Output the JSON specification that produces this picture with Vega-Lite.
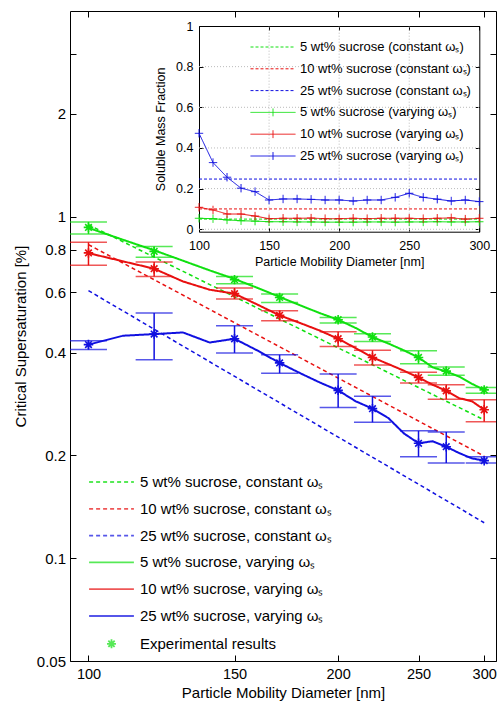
{
"$schema":"https://vega.github.io/schema/vega-lite/v6.json",
"width":426,"height":650,
"autosize":{"type":"none"},
"padding":{"left":70,"top":11,"right":1,"bottom":41},
"background":"white",
"config":{
 "font":"Liberation Sans",
 "view":{"stroke":"#000","strokeWidth":1},
 "axis":{"grid":false,"labelColor":"#000","titleColor":"#000","tickColor":"#000","domainColor":"#000","titleFontWeight":"normal","labelFlush":false,"labelOverlap":false,"labelFont":"Liberation Sans","titleFont":"Liberation Sans"},
 "legend":{"labelFont":"Liberation Sans","labelColor":"#000","labelLimit":0,"padding":0}
},
"datasets":{
 "mconst":[
  {"d":100,"S":0.947,"series":"5 wt% sucrose, constant ωₛ"},{"d":300,"S":0.254,"series":"5 wt% sucrose, constant ωₛ"},
  {"d":100,"S":0.828,"series":"10 wt% sucrose, constant ωₛ"},{"d":300,"S":0.199,"series":"10 wt% sucrose, constant ωₛ"},
  {"d":100,"S":0.607,"series":"25 wt% sucrose, constant ωₛ"},{"d":300,"S":0.127,"series":"25 wt% sucrose, constant ωₛ"}
 ],
 "mvary":[
  {"d":100,"S":0.927,"series":"5 wt% sucrose, varying ωₛ"},{"d":110,"S":0.856,"series":"5 wt% sucrose, varying ωₛ"},{"d":120,"S":0.797,"series":"5 wt% sucrose, varying ωₛ"},{"d":130,"S":0.743,"series":"5 wt% sucrose, varying ωₛ"},{"d":140,"S":0.696,"series":"5 wt% sucrose, varying ωₛ"},{"d":150,"S":0.657,"series":"5 wt% sucrose, varying ωₛ"},{"d":160,"S":0.618,"series":"5 wt% sucrose, varying ωₛ"},{"d":170,"S":0.582,"series":"5 wt% sucrose, varying ωₛ"},{"d":180,"S":0.55,"series":"5 wt% sucrose, varying ωₛ"},{"d":190,"S":0.522,"series":"5 wt% sucrose, varying ωₛ"},{"d":200,"S":0.499,"series":"5 wt% sucrose, varying ωₛ"},{"d":210,"S":0.472,"series":"5 wt% sucrose, varying ωₛ"},{"d":220,"S":0.444,"series":"5 wt% sucrose, varying ωₛ"},{"d":230,"S":0.425,"series":"5 wt% sucrose, varying ωₛ"},{"d":240,"S":0.406,"series":"5 wt% sucrose, varying ωₛ"},{"d":250,"S":0.387,"series":"5 wt% sucrose, varying ωₛ"},{"d":260,"S":0.362,"series":"5 wt% sucrose, varying ωₛ"},{"d":270,"S":0.352,"series":"5 wt% sucrose, varying ωₛ"},{"d":280,"S":0.34,"series":"5 wt% sucrose, varying ωₛ"},{"d":290,"S":0.324,"series":"5 wt% sucrose, varying ωₛ"},{"d":300,"S":0.311,"series":"5 wt% sucrose, varying ωₛ"},
  {"d":100,"S":0.782,"series":"10 wt% sucrose, varying ωₛ"},{"d":110,"S":0.74,"series":"10 wt% sucrose, varying ωₛ"},{"d":120,"S":0.704,"series":"10 wt% sucrose, varying ωₛ"},{"d":130,"S":0.646,"series":"10 wt% sucrose, varying ωₛ"},{"d":140,"S":0.611,"series":"10 wt% sucrose, varying ωₛ"},{"d":150,"S":0.595,"series":"10 wt% sucrose, varying ωₛ"},{"d":160,"S":0.552,"series":"10 wt% sucrose, varying ωₛ"},{"d":170,"S":0.514,"series":"10 wt% sucrose, varying ωₛ"},{"d":180,"S":0.488,"series":"10 wt% sucrose, varying ωₛ"},{"d":190,"S":0.464,"series":"10 wt% sucrose, varying ωₛ"},{"d":200,"S":0.439,"series":"10 wt% sucrose, varying ωₛ"},{"d":210,"S":0.412,"series":"10 wt% sucrose, varying ωₛ"},{"d":220,"S":0.387,"series":"10 wt% sucrose, varying ωₛ"},{"d":230,"S":0.37,"series":"10 wt% sucrose, varying ωₛ"},{"d":240,"S":0.354,"series":"10 wt% sucrose, varying ωₛ"},{"d":250,"S":0.338,"series":"10 wt% sucrose, varying ωₛ"},{"d":260,"S":0.322,"series":"10 wt% sucrose, varying ωₛ"},{"d":270,"S":0.309,"series":"10 wt% sucrose, varying ωₛ"},{"d":280,"S":0.294,"series":"10 wt% sucrose, varying ωₛ"},{"d":290,"S":0.288,"series":"10 wt% sucrose, varying ωₛ"},{"d":300,"S":0.272,"series":"10 wt% sucrose, varying ωₛ"},
  {"d":100,"S":0.422,"series":"25 wt% sucrose, varying ωₛ"},{"d":110,"S":0.448,"series":"25 wt% sucrose, varying ωₛ"},{"d":120,"S":0.453,"series":"25 wt% sucrose, varying ωₛ"},{"d":130,"S":0.458,"series":"25 wt% sucrose, varying ωₛ"},{"d":140,"S":0.428,"series":"25 wt% sucrose, varying ωₛ"},{"d":150,"S":0.439,"series":"25 wt% sucrose, varying ωₛ"},{"d":160,"S":0.405,"series":"25 wt% sucrose, varying ωₛ"},{"d":170,"S":0.373,"series":"25 wt% sucrose, varying ωₛ"},{"d":180,"S":0.348,"series":"25 wt% sucrose, varying ωₛ"},{"d":190,"S":0.327,"series":"25 wt% sucrose, varying ωₛ"},{"d":200,"S":0.31,"series":"25 wt% sucrose, varying ωₛ"},{"d":210,"S":0.288,"series":"25 wt% sucrose, varying ωₛ"},{"d":220,"S":0.274,"series":"25 wt% sucrose, varying ωₛ"},{"d":230,"S":0.257,"series":"25 wt% sucrose, varying ωₛ"},{"d":240,"S":0.232,"series":"25 wt% sucrose, varying ωₛ"},{"d":250,"S":0.217,"series":"25 wt% sucrose, varying ωₛ"},{"d":260,"S":0.22,"series":"25 wt% sucrose, varying ωₛ"},{"d":270,"S":0.212,"series":"25 wt% sucrose, varying ωₛ"},{"d":280,"S":0.203,"series":"25 wt% sucrose, varying ωₛ"},{"d":290,"S":0.196,"series":"25 wt% sucrose, varying ωₛ"},{"d":300,"S":0.193,"series":"25 wt% sucrose, varying ωₛ"}
 ],
 "exp":[
  {"d":100,"S":0.93,"lo":0.89,"hi":0.965,"series":"5 wt% sucrose, varying ωₛ"},
  {"d":120,"S":0.791,"lo":0.76,"hi":0.818,"series":"5 wt% sucrose, varying ωₛ"},
  {"d":150,"S":0.654,"lo":0.636,"hi":0.668,"series":"5 wt% sucrose, varying ωₛ"},
  {"d":170,"S":0.58,"lo":0.561,"hi":0.594,"series":"5 wt% sucrose, varying ωₛ"},
  {"d":200,"S":0.499,"lo":0.488,"hi":0.507,"series":"5 wt% sucrose, varying ωₛ"},
  {"d":220,"S":0.444,"lo":0.431,"hi":0.454,"series":"5 wt% sucrose, varying ωₛ"},
  {"d":250,"S":0.387,"lo":0.371,"hi":0.405,"series":"5 wt% sucrose, varying ωₛ"},
  {"d":270,"S":0.353,"lo":0.343,"hi":0.363,"series":"5 wt% sucrose, varying ωₛ"},
  {"d":300,"S":0.311,"lo":0.304,"hi":0.316,"series":"5 wt% sucrose, varying ωₛ"},
  {"d":100,"S":0.783,"lo":0.72,"hi":0.841,"series":"10 wt% sucrose, varying ωₛ"},
  {"d":120,"S":0.704,"lo":0.668,"hi":0.737,"series":"10 wt% sucrose, varying ωₛ"},
  {"d":150,"S":0.595,"lo":0.574,"hi":0.618,"series":"10 wt% sucrose, varying ωₛ"},
  {"d":170,"S":0.514,"lo":0.496,"hi":0.53,"series":"10 wt% sucrose, varying ωₛ"},
  {"d":200,"S":0.439,"lo":0.417,"hi":0.46,"series":"10 wt% sucrose, varying ωₛ"},
  {"d":220,"S":0.387,"lo":0.368,"hi":0.406,"series":"10 wt% sucrose, varying ωₛ"},
  {"d":250,"S":0.338,"lo":0.326,"hi":0.35,"series":"10 wt% sucrose, varying ωₛ"},
  {"d":270,"S":0.309,"lo":0.292,"hi":0.322,"series":"10 wt% sucrose, varying ωₛ"},
  {"d":300,"S":0.272,"lo":0.251,"hi":0.291,"series":"10 wt% sucrose, varying ωₛ"},
  {"d":100,"S":0.422,"lo":0.408,"hi":0.433,"series":"25 wt% sucrose, varying ωₛ"},
  {"d":120,"S":0.453,"lo":0.381,"hi":0.522,"series":"25 wt% sucrose, varying ωₛ"},
  {"d":150,"S":0.439,"lo":0.399,"hi":0.479,"series":"25 wt% sucrose, varying ωₛ"},
  {"d":170,"S":0.373,"lo":0.348,"hi":0.394,"series":"25 wt% sucrose, varying ωₛ"},
  {"d":200,"S":0.31,"lo":0.276,"hi":0.346,"series":"25 wt% sucrose, varying ωₛ"},
  {"d":220,"S":0.274,"lo":0.25,"hi":0.298,"series":"25 wt% sucrose, varying ωₛ"},
  {"d":250,"S":0.217,"lo":0.198,"hi":0.236,"series":"25 wt% sucrose, varying ωₛ"},
  {"d":270,"S":0.212,"lo":0.19,"hi":0.234,"series":"25 wt% sucrose, varying ωₛ"},
  {"d":300,"S":0.193,"lo":0.19,"hi":0.198,"series":"25 wt% sucrose, varying ωₛ"}
 ],
 "iconst":[
  {"d":100,"f":0.05,"iseries":"5 wt% sucrose (constant ωₛ)"},{"d":300,"f":0.05,"iseries":"5 wt% sucrose (constant ωₛ)"},
  {"d":100,"f":0.1,"iseries":"10 wt% sucrose (constant ωₛ)"},{"d":300,"f":0.1,"iseries":"10 wt% sucrose (constant ωₛ)"},
  {"d":100,"f":0.247,"iseries":"25 wt% sucrose (constant ωₛ)"},{"d":300,"f":0.247,"iseries":"25 wt% sucrose (constant ωₛ)"}
 ],
 "ivary":[
  {"d":100,"f":0.054,"iseries":"5 wt% sucrose (varying ωₛ)"},{"d":110,"f":0.052,"iseries":"5 wt% sucrose (varying ωₛ)"},{"d":120,"f":0.046,"iseries":"5 wt% sucrose (varying ωₛ)"},{"d":130,"f":0.042,"iseries":"5 wt% sucrose (varying ωₛ)"},{"d":140,"f":0.04,"iseries":"5 wt% sucrose (varying ωₛ)"},{"d":150,"f":0.037,"iseries":"5 wt% sucrose (varying ωₛ)"},{"d":160,"f":0.037,"iseries":"5 wt% sucrose (varying ωₛ)"},{"d":170,"f":0.036,"iseries":"5 wt% sucrose (varying ωₛ)"},{"d":180,"f":0.036,"iseries":"5 wt% sucrose (varying ωₛ)"},{"d":190,"f":0.035,"iseries":"5 wt% sucrose (varying ωₛ)"},{"d":200,"f":0.035,"iseries":"5 wt% sucrose (varying ωₛ)"},{"d":210,"f":0.035,"iseries":"5 wt% sucrose (varying ωₛ)"},{"d":220,"f":0.036,"iseries":"5 wt% sucrose (varying ωₛ)"},{"d":230,"f":0.036,"iseries":"5 wt% sucrose (varying ωₛ)"},{"d":240,"f":0.035,"iseries":"5 wt% sucrose (varying ωₛ)"},{"d":250,"f":0.036,"iseries":"5 wt% sucrose (varying ωₛ)"},{"d":260,"f":0.036,"iseries":"5 wt% sucrose (varying ωₛ)"},{"d":270,"f":0.037,"iseries":"5 wt% sucrose (varying ωₛ)"},{"d":280,"f":0.036,"iseries":"5 wt% sucrose (varying ωₛ)"},{"d":290,"f":0.036,"iseries":"5 wt% sucrose (varying ωₛ)"},{"d":300,"f":0.037,"iseries":"5 wt% sucrose (varying ωₛ)"},
  {"d":100,"f":0.108,"iseries":"10 wt% sucrose (varying ωₛ)"},{"d":110,"f":0.095,"iseries":"10 wt% sucrose (varying ωₛ)"},{"d":120,"f":0.075,"iseries":"10 wt% sucrose (varying ωₛ)"},{"d":130,"f":0.075,"iseries":"10 wt% sucrose (varying ωₛ)"},{"d":140,"f":0.065,"iseries":"10 wt% sucrose (varying ωₛ)"},{"d":150,"f":0.052,"iseries":"10 wt% sucrose (varying ωₛ)"},{"d":160,"f":0.054,"iseries":"10 wt% sucrose (varying ωₛ)"},{"d":170,"f":0.054,"iseries":"10 wt% sucrose (varying ωₛ)"},{"d":180,"f":0.055,"iseries":"10 wt% sucrose (varying ωₛ)"},{"d":190,"f":0.052,"iseries":"10 wt% sucrose (varying ωₛ)"},{"d":200,"f":0.052,"iseries":"10 wt% sucrose (varying ωₛ)"},{"d":210,"f":0.054,"iseries":"10 wt% sucrose (varying ωₛ)"},{"d":220,"f":0.052,"iseries":"10 wt% sucrose (varying ωₛ)"},{"d":230,"f":0.054,"iseries":"10 wt% sucrose (varying ωₛ)"},{"d":240,"f":0.054,"iseries":"10 wt% sucrose (varying ωₛ)"},{"d":250,"f":0.054,"iseries":"10 wt% sucrose (varying ωₛ)"},{"d":260,"f":0.052,"iseries":"10 wt% sucrose (varying ωₛ)"},{"d":270,"f":0.054,"iseries":"10 wt% sucrose (varying ωₛ)"},{"d":280,"f":0.056,"iseries":"10 wt% sucrose (varying ωₛ)"},{"d":290,"f":0.05,"iseries":"10 wt% sucrose (varying ωₛ)"},{"d":300,"f":0.054,"iseries":"10 wt% sucrose (varying ωₛ)"},
  {"d":100,"f":0.472,"iseries":"25 wt% sucrose (varying ωₛ)"},{"d":110,"f":0.328,"iseries":"25 wt% sucrose (varying ωₛ)"},{"d":120,"f":0.256,"iseries":"25 wt% sucrose (varying ωₛ)"},{"d":130,"f":0.202,"iseries":"25 wt% sucrose (varying ωₛ)"},{"d":140,"f":0.185,"iseries":"25 wt% sucrose (varying ωₛ)"},{"d":150,"f":0.144,"iseries":"25 wt% sucrose (varying ωₛ)"},{"d":160,"f":0.149,"iseries":"25 wt% sucrose (varying ωₛ)"},{"d":170,"f":0.149,"iseries":"25 wt% sucrose (varying ωₛ)"},{"d":180,"f":0.147,"iseries":"25 wt% sucrose (varying ωₛ)"},{"d":190,"f":0.144,"iseries":"25 wt% sucrose (varying ωₛ)"},{"d":200,"f":0.144,"iseries":"25 wt% sucrose (varying ωₛ)"},{"d":210,"f":0.139,"iseries":"25 wt% sucrose (varying ωₛ)"},{"d":220,"f":0.144,"iseries":"25 wt% sucrose (varying ωₛ)"},{"d":230,"f":0.144,"iseries":"25 wt% sucrose (varying ωₛ)"},{"d":240,"f":0.157,"iseries":"25 wt% sucrose (varying ωₛ)"},{"d":250,"f":0.177,"iseries":"25 wt% sucrose (varying ωₛ)"},{"d":260,"f":0.157,"iseries":"25 wt% sucrose (varying ωₛ)"},{"d":270,"f":0.148,"iseries":"25 wt% sucrose (varying ωₛ)"},{"d":280,"f":0.139,"iseries":"25 wt% sucrose (varying ωₛ)"},{"d":290,"f":0.144,"iseries":"25 wt% sucrose (varying ωₛ)"},{"d":300,"f":0.136,"iseries":"25 wt% sucrose (varying ωₛ)"}
 ],
 "ygrid":[{"g":0},{"g":0.2},{"g":0.4},{"g":0.6},{"g":0.8}],
 "xgrid":[{"g":150},{"g":200},{"g":250}]
},
"layer":[
 {
  "layer":[
   {"data":{"name":"mconst"},"mark":{"type":"line","strokeWidth":1.5,"clip":true},
    "encoding":{
     "x":{"field":"d","type":"quantitative","scale":{"type":"log","domain":[95,310],"nice":false},"axis":{"orient":"top","values":[100,150,200,250,300],"labels":false,"title":null,"domain":false,"tickSize":-6}},
     "y":{"field":"S","type":"quantitative","scale":{"type":"log","domain":[0.05,4],"nice":false},"axis":{"orient":"right","values":[0.05,0.1,0.2,0.4,0.6,0.8,1,2,3],"labels":false,"title":null,"domain":false,"tickSize":-6}},
     "color":{"field":"series","type":"nominal",
      "scale":{"domain":["5 wt% sucrose, constant ωₛ","10 wt% sucrose, constant ωₛ","25 wt% sucrose, constant ωₛ","5 wt% sucrose, varying ωₛ","10 wt% sucrose, varying ωₛ","25 wt% sucrose, varying ωₛ","Experimental results"],"range":["#10e010","#e81010","#1010e0","#10e010","#e81010","#1010e0","#10e010"]},
      "legend":{"title":null,"orient":"none","legendX":33.5,"legendY":463,"labelFontSize":15,"symbolSize":196,"symbolStrokeWidth":1.8,"rowPadding":10.8,"labelOffset":20.5,"symbolType":"stroke"}},
     "strokeDash":{"field":"series","type":"nominal","scale":{"domain":["5 wt% sucrose, constant ωₛ","10 wt% sucrose, constant ωₛ","25 wt% sucrose, constant ωₛ","5 wt% sucrose, varying ωₛ","10 wt% sucrose, varying ωₛ","25 wt% sucrose, varying ωₛ","Experimental results"],"range":[[4,3],[4,3],[4,3],[1,0],[1,0],[1,0],[1,0]]}}
    }},
   {"data":{"name":"mvary"},"mark":{"type":"line","strokeWidth":2,"clip":true},
    "encoding":{
     "x":{"field":"d","type":"quantitative","axis":{"orient":"bottom","values":[100,150,200,250,300],"format":"d","labelFontSize":14.5,"title":"Particle Mobility Diameter [nm]","titleFontSize":15,"tickSize":-6,"labelPadding":12,"titlePadding":5,"domain":false}},
     "y":{"field":"S","type":"quantitative","axis":{"orient":"left","values":[0.05,0.1,0.2,0.4,0.6,0.8,1,2,3],"format":"~g","labelExpr":"datum.value == 3 ? '' : datum.label","labelFontSize":15,"title":"Critical Supersaturation [%]","titleFontSize":15,"tickSize":-6,"labelPadding":10.5,"titlePadding":8,"domain":false}},
     "color":{"field":"series","type":"nominal"},
     "strokeDash":{"field":"series","type":"nominal"}
    }},
   {"data":{"name":"exp"},"mark":{"type":"rule","strokeWidth":1.5,"clip":true},
    "encoding":{
     "x":{"field":"d","type":"quantitative","axis":null},
     "y":{"field":"lo","type":"quantitative","axis":null},
     "y2":{"field":"hi"},
     "color":{"field":"series","type":"nominal"}
    }},
   {"data":{"name":"exp"},"mark":{"type":"tick","orient":"horizontal","size":37,"thickness":1.5,"clip":true},
    "encoding":{
     "x":{"field":"d","type":"quantitative","axis":null},
     "y":{"field":"lo","type":"quantitative","axis":null},
     "color":{"field":"series","type":"nominal"}
    }},
   {"data":{"name":"exp"},"mark":{"type":"tick","orient":"horizontal","size":37,"thickness":1.5,"clip":true},
    "encoding":{
     "x":{"field":"d","type":"quantitative","axis":null},
     "y":{"field":"hi","type":"quantitative","axis":null},
     "color":{"field":"series","type":"nominal"}
    }},
   {"data":{"name":"exp"},"mark":{"type":"point","shape":"M0,-1L0,1M-1,0L1,0M-0.7,-0.7L0.7,0.7M-0.7,0.7L0.7,-0.7","filled":false,"size":90,"strokeWidth":1.6,"opacity":1,"clip":true},
    "encoding":{
     "x":{"field":"d","type":"quantitative","axis":null},
     "y":{"field":"S","type":"quantitative","axis":null},
     "color":{"field":"series","type":"nominal"}
    }},
   {"data":{"values":[]},"mark":{"type":"point","filled":false},
    "encoding":{
     "shape":{"field":"series","type":"nominal","scale":{"domain":["5 wt% sucrose, constant ωₛ","10 wt% sucrose, constant ωₛ","25 wt% sucrose, constant ωₛ","5 wt% sucrose, varying ωₛ","10 wt% sucrose, varying ωₛ","25 wt% sucrose, varying ωₛ","Experimental results"],"range":["M-3.2,0L3.2,0","M-3.2,0L3.2,0","M-3.2,0L3.2,0","M-3.2,0L3.2,0","M-3.2,0L3.2,0","M-3.2,0L3.2,0","M0,-0.64L0,0.64M-0.64,0L0.64,0M-0.45,-0.45L0.45,0.45M-0.45,0.45L0.45,-0.45"]}}
    }}
  ],
  "resolve":{"axis":{"x":"independent","y":"independent"}}
 },
 {
  "layer":[
   {"data":{"name":"ygrid"},"mark":{"type":"rule","color":"#bbbbbb","strokeDash":[1,2],"strokeWidth":1},
    "encoding":{
     "y":{"field":"g","type":"quantitative","scale":{"domain":[-0.012,1],"range":[220.7,15],"nice":false,"zero":false},"axis":null},
     "x":{"datum":100,"type":"quantitative","scale":{"domain":[100,300],"range":[129,409.3],"nice":false,"zero":false},"axis":null},
     "x2":{"datum":300}
    }},
   {"data":{"name":"xgrid"},"mark":{"type":"rule","color":"#bbbbbb","strokeDash":[1,2],"strokeWidth":1},
    "encoding":{
     "x":{"field":"g","type":"quantitative","axis":null},
     "y":{"datum":-0.012,"type":"quantitative","axis":null},
     "y2":{"datum":1}
    }},
   {"data":{"name":"iconst"},"mark":{"type":"line","strokeWidth":1},
    "encoding":{
     "x":{"field":"d","type":"quantitative","axis":{"orient":"top","offset":-15,"values":[100,150,200,250,300],"labels":false,"title":null,"tickSize":-4}},
     "y":{"field":"f","type":"quantitative","axis":{"orient":"right","offset":-16.7,"values":[0,0.2,0.4,0.6,0.8,1],"labels":false,"title":null,"tickSize":-4}},
     "color":{"field":"iseries","type":"nominal",
      "scale":{"domain":["5 wt% sucrose (constant ωₛ)","10 wt% sucrose (constant ωₛ)","25 wt% sucrose (constant ωₛ)","5 wt% sucrose (varying ωₛ)","10 wt% sucrose (varying ωₛ)","25 wt% sucrose (varying ωₛ)"],"range":["#10e010","#e81010","#1010e0","#10e010","#e81010","#1010e0"]},
      "legend":{"title":null,"orient":"none","legendX":196,"legendY":29,"labelFontSize":13,"symbolSize":169,"symbolStrokeWidth":1,"rowPadding":7.8,"labelOffset":20,"symbolType":"stroke"}},
     "strokeDash":{"field":"iseries","type":"nominal","scale":{"domain":["5 wt% sucrose (constant ωₛ)","10 wt% sucrose (constant ωₛ)","25 wt% sucrose (constant ωₛ)","5 wt% sucrose (varying ωₛ)","10 wt% sucrose (varying ωₛ)","25 wt% sucrose (varying ωₛ)"],"range":[[3,2],[3,2],[3,2],[1,0],[1,0],[1,0]]}}
    }},
   {"data":{"name":"ivary"},"mark":{"type":"line","strokeWidth":1,"point":{"shape":"M-1,0L1,0M0,-1L0,1","filled":false,"size":70,"strokeWidth":1}},
    "encoding":{
     "x":{"field":"d","type":"quantitative","axis":{"orient":"bottom","offset":-429.3,"values":[100,150,200,250,300],"format":"d","labelFontSize":12.5,"title":"Particle Mobility Diameter [nm]","titleFontSize":12.5,"tickSize":-4,"labelPadding":11.7,"titlePadding":4}},
     "y":{"field":"f","type":"quantitative","axis":{"orient":"left","offset":-129,"values":[0,0.2,0.4,0.6,0.8,1],"format":"~g","labelFontSize":12.5,"title":"Soluble Mass Fraction","titleFontSize":12.5,"tickSize":-4,"labelPadding":10,"titlePadding":8}},
     "color":{"field":"iseries","type":"nominal"},
     "strokeDash":{"field":"iseries","type":"nominal"}
    }},
   {"data":{"values":[]},"mark":{"type":"point","filled":false},
    "encoding":{
     "shape":{"field":"iseries","type":"nominal","scale":{"domain":["5 wt% sucrose (constant ωₛ)","10 wt% sucrose (constant ωₛ)","25 wt% sucrose (constant ωₛ)","5 wt% sucrose (varying ωₛ)","10 wt% sucrose (varying ωₛ)","25 wt% sucrose (varying ωₛ)"],"range":["M-3.46,0L3.46,0","M-3.46,0L3.46,0","M-3.46,0L3.46,0","M-3.46,0L3.46,0M0,-0.6L0,0.6","M-3.46,0L3.46,0M0,-0.6L0,0.6","M-3.46,0L3.46,0M0,-0.6L0,0.6"]}}
    }}
  ],
  "resolve":{"axis":{"x":"independent","y":"independent"}}
 }
],
"resolve":{"scale":{"x":"independent","y":"independent","color":"independent","strokeDash":"independent","shape":"independent"}}
}
